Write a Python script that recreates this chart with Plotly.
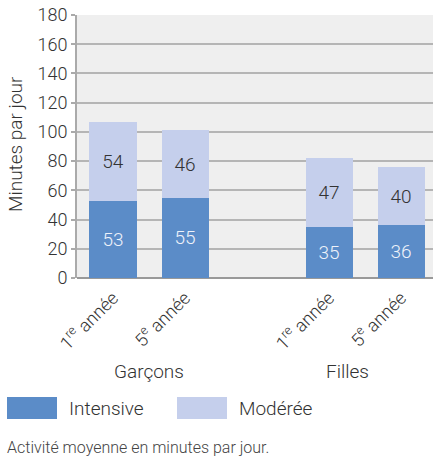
import plotly.graph_objects as go

categories = ["1<sup>re</sup> année", "5<sup>e</sup> année", "1<sup>re</sup> année", "5<sup>e</sup> année"]
positions = [0, 1, 3, 4]
groups = ["Garçons", "Filles"]
group_pos = [0.5, 3.26]
intensive = [53, 55, 35, 36]
moderee = [54, 46, 47, 40]
series_names = ["Intensive", "Modérée"]
y_ticks = [0, 20, 40, 60, 80, 100, 120, 140, 160, 180]

c_int = "#5b8cc8"
c_mod = "#c5cfec"
FONT = "Roboto"
TXT = "#333333"

fig = go.Figure()
fig.add_bar(x=positions, y=intensive, name=series_names[0], marker_color=c_int,
            marker_line_width=0, width=0.653, text=intensive, textposition="inside",
            insidetextanchor="middle", textangle=0,
            textfont=dict(family=FONT, size=19, color="#eef2fa", weight=300))
fig.add_bar(x=positions, y=moderee, name=series_names[1], marker_color=c_mod,
            marker_line_width=0, width=0.653, text=moderee, textposition="inside",
            insidetextanchor="middle", textangle=0,
            textfont=dict(family=FONT, size=19, color=TXT, weight=300))

W, H = 433, 457
ML, MR, MT, MB = 77, 0, 15, 179

fig.update_layout(
    barmode="stack",
    width=W, height=H,
    margin=dict(l=ML, r=MR, t=MT, b=MB, autoexpand=False),
    paper_bgcolor="white",
    plot_bgcolor="#efefef",
    showlegend=False,
    hovermode=False,
    font=dict(family=FONT, size=17, color=TXT, weight=300),
    xaxis=dict(range=[-0.5, 4.444], tickvals=positions, ticktext=categories,
               tickangle=-45, showgrid=False, zeroline=False,
               tickfont=dict(size=18, color=TXT), ticks="", automargin=False,
               ticklabelstandoff=5),
    yaxis=dict(range=[0, 180], tickvals=y_ticks, showgrid=True, gridcolor="#b5b5b5",
               gridwidth=2, showline=True, linecolor="#aaaaaa", linewidth=2,
               ticks="outside", ticklen=4, tickcolor="#aaaaaa", tickwidth=2,
               zeroline=True, zerolinecolor="#999999", zerolinewidth=2,
               tickfont=dict(size=18, color=TXT), automargin=False),
)

def py(pix):
    return (H - MB - pix) / (H - MT - MB)

def px(pix):
    return (pix - ML) / (W - ML - MR)

# y-axis title
fig.add_annotation(x=px(15), y=py(144), xref="paper", yref="paper", text="Minutes par jour",
                   textangle=-90, showarrow=False, xanchor="center", yanchor="middle",
                   font=dict(size=19, color=TXT))

# group labels
for g, gx in zip(groups, group_pos):
    fig.add_annotation(x=gx, y=py(371), xref="x", yref="paper", text=g,
                       showarrow=False, yanchor="middle", font=dict(size=19, color=TXT))

# custom legend
for (x0, x1, col, lx, name) in [(7, 57, c_int, 67, series_names[0]),
                                (177, 227, c_mod, 237, series_names[1])]:
    fig.add_shape(type="rect", xref="paper", yref="paper", x0=px(x0), x1=px(x1),
                  y0=py(419), y1=py(397), fillcolor=col, line_width=0)
    fig.add_annotation(x=px(lx), y=py(408), xref="paper", yref="paper", text=name,
                       showarrow=False, xanchor="left", yanchor="middle",
                       font=dict(size=19, color=TXT))

fig.add_annotation(x=px(5), y=py(447), xref="paper", yref="paper",
                   text="Activité moyenne en minutes par jour.", showarrow=False,
                   xanchor="left", yanchor="middle", font=dict(size=16, color="#444444"))

fig.write_html("out.html", config={"displayModeBar": False, "staticPlot": True},
               post_script="document.body.style.margin='0';")
